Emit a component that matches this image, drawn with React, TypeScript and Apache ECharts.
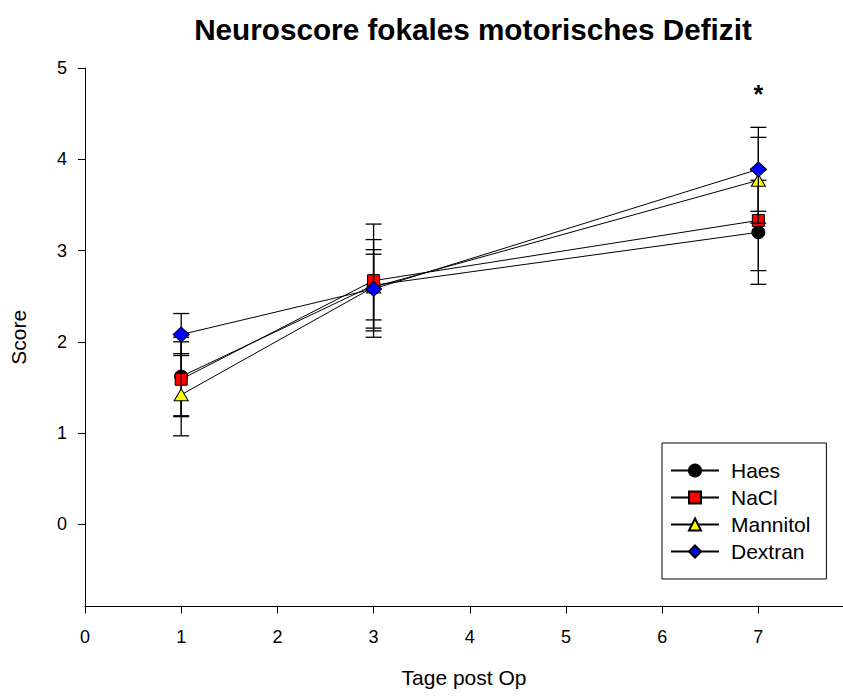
import React, { useEffect, useRef } from "react";
import * as echarts from "echarts";

// Days after surgery at which the neuroscore was assessed
const days = [1, 3, 7];

// Mean scores per treatment group
const haesMean = [1.62, 2.62, 3.2];
const naclMean = [1.59, 2.67, 3.33];
const mannitolMean = [1.42, 2.6, 3.77];
const dextranMean = [2.08, 2.58, 3.89];

// Standard deviations per treatment group
const haesSd = [0.43, 0.5, 0.57];
const naclSd = [0.41, 0.62, 0.55];
const mannitolSd = [0.45, 0.36, 0.47];
const dextranSd = [0.23, 0.43, 0.46];

const yTicks = [0, 1, 2, 3, 4, 5];
const xTicks = [0, 1, 2, 3, 4, 5, 6, 7];

// Significance marker above day 7
const starDay = 7;
const starLevel = 4.71;

const FONT = "'Liberation Sans', Arial, Helvetica, sans-serif";

type Group = {
  name: string;
  mean: number[];
  sd: number[];
  symbol: string;
  symbolSize: number | number[];
  color: string;
};

const groups: Group[] = [
  { name: "Haes", mean: haesMean, sd: haesSd, symbol: "circle", symbolSize: 13, color: "#000000" },
  { name: "NaCl", mean: naclMean, sd: naclSd, symbol: "rect", symbolSize: 12, color: "#ff0000" },
  { name: "Mannitol", mean: mannitolMean, sd: mannitolSd, symbol: "triangle", symbolSize: [14, 12], color: "#ffff00" },
  { name: "Dextran", mean: dextranMean, sd: dextranSd, symbol: "diamond", symbolSize: [16, 15], color: "#0000ff" },
];

export default function App() {
  const ref = useRef<HTMLDivElement>(null);

  useEffect(() => {
    if (!ref.current) return;
    const chart = echarts.init(ref.current, null, { renderer: "svg" });

    const series: any[] = [];
    groups.forEach((g, i) => {
      // error bars: vertical whisker with caps at mean ± sd
      series.push({
        type: "custom",
        name: g.name + " SD",
        z: 2 + i * 2,
        silent: true,
        data: days.map((d, k) => [d, g.mean[k] - g.sd[k], g.mean[k] + g.sd[k]]),
        renderItem: (params: any, api: any) => {
          const x = api.value(0);
          const lo = api.coord([x, api.value(1)]);
          const hi = api.coord([x, api.value(2)]);
          const w = 8;
          const style = { stroke: "#000", lineWidth: 1.3 };
          return {
            type: "group",
            children: [
              { type: "line", shape: { x1: lo[0], y1: lo[1], x2: hi[0], y2: hi[1] }, style },
              { type: "line", shape: { x1: lo[0] - w, y1: lo[1], x2: lo[0] + w, y2: lo[1] }, style },
              { type: "line", shape: { x1: hi[0] - w, y1: hi[1], x2: hi[0] + w, y2: hi[1] }, style },
            ],
          };
        },
      });
      const line: any = {
        type: "line",
        name: g.name,
        z: 3 + i * 2,
        data: days.map((d, k) => [d, g.mean[k]]),
        symbol: g.symbol,
        symbolSize: g.symbolSize,
        showAllSymbol: true,
        lineStyle: { color: "#000", width: 1 },
        itemStyle: { color: g.color, borderColor: "#000", borderWidth: 1 },
        emphasis: { disabled: true },
      };
      if (g.name === "Dextran") {
        line.markPoint = {
          symbol: "circle",
          symbolSize: 0,
          silent: true,
          data: [
            {
              coord: [starDay, starLevel],
              label: {
                show: true,
                formatter: "*",
                position: "inside",
                color: "#000",
                fontFamily: FONT,
                fontWeight: "bold",
                fontSize: 25,
              },
            },
          ],
        };
      }
      series.push(line);
    });

    chart.setOption({
      animation: false,
      backgroundColor: "#ffffff",
      title: {
        text: "Neuroscore fokales motorisches Defizit",
        left: 468,
        top: 9,
        textAlign: "center",
        textStyle: { fontFamily: FONT, fontWeight: "bold", fontSize: 29.7, color: "#000" },
      },
      grid: { left: 83.5, top: 68, right: 0, height: 538.5, containLabel: false },
      xAxis: {
        type: "value",
        min: 0,
        max: 7.88,
        name: "Tage post Op",
        nameLocation: "middle",
        nameGap: 60,
        nameTextStyle: { fontFamily: FONT, fontSize: 21, color: "#000" },
        axisLine: { show: true, onZero: false, lineStyle: { color: "#000", width: 1 } },
        axisTick: { show: true, inside: false, length: 7, lineStyle: { color: "#000" }, customValues: xTicks },
        axisLabel: {
          fontFamily: FONT,
          fontSize: 18,
          color: "#000",
          margin: 21,
          customValues: xTicks,
        },
        splitLine: { show: false },
      },
      yAxis: {
        type: "value",
        min: -0.9,
        max: 5,
        name: "Score",
        nameLocation: "middle",
        nameGap: 56,
        nameTextStyle: { fontFamily: FONT, fontSize: 21, color: "#000" },
        axisLine: { show: true, onZero: false, lineStyle: { color: "#000", width: 1 } },
        axisTick: { show: true, inside: false, length: 7, lineStyle: { color: "#000" }, customValues: yTicks },
        axisLabel: {
          fontFamily: FONT,
          fontSize: 18,
          color: "#000",
          margin: 18,
          customValues: yTicks,
        },
        splitLine: { show: false },
      },
      legend: {
        data: groups.map((g) => g.name),
        orient: "vertical",
        left: 662,
        top: 443,
        backgroundColor: "#fff",
        borderColor: "#000",
        borderWidth: 1,
        borderRadius: 0,
        padding: [17, 16, 17, 8],
        itemGap: 6,
        itemWidth: 48,
        itemHeight: 15,
        textStyle: { fontFamily: FONT, fontSize: 21, color: "#000", padding: [0, 0, 0, 7] },
        selectedMode: false,
      },
      series,
    });

    return () => chart.dispose();
  }, []);

  return (
    <div
      ref={ref}
      style={{ position: "absolute", left: 0, top: 0, width: 843, height: 698 }}
    />
  );
}
